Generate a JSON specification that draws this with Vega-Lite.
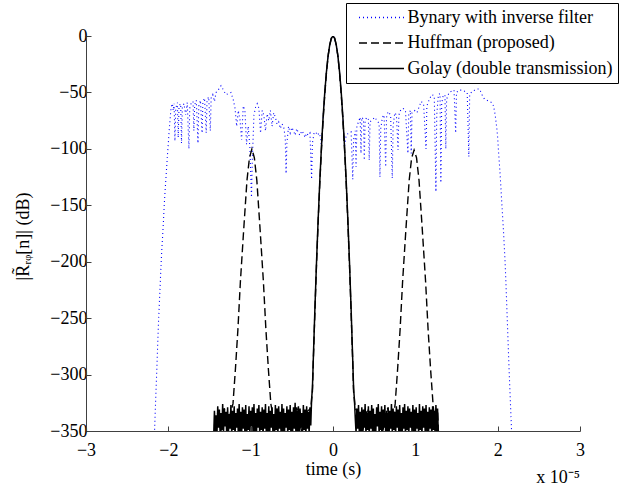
{
 "$schema": "https://vega.github.io/schema/vega-lite/v6.json",
 "width": 494,
 "height": 395,
 "autosize": {"type": "none"},
 "padding": {"left": 86, "top": 36, "right": 61, "bottom": 53},
 "background": "white",
 "config": {"view": {"stroke": null}, "font": "Liberation Serif, Times New Roman, Times, serif"},
 "title": {"text": "x 10⁻⁵", "orient": "bottom", "anchor": "end", "frame": "group", "font": "Liberation Serif, Times New Roman, Times, serif", "fontSize": 18, "fontWeight": "normal", "color": "black", "offset": -9},
 "datasets": {
  "blue": [
   {"x": -2.17, "y": -356}, {"x": -2.16, "y": -335}, {"x": -2.15, "y": -315}, {"x": -2.14, "y": -296}, {"x": -2.13, "y": -275}, {"x": -2.12, "y": -255}, {"x": -2.11, "y": -238}, {"x": -2.10, "y": -222}, {"x": -2.09, "y": -205}, {"x": -2.08, "y": -190}, {"x": -2.07, "y": -178}, {"x": -2.06, "y": -165}, {"x": -2.05, "y": -150}, {"x": -2.04, "y": -138}, {"x": -2.03, "y": -127}, {"x": -2.02, "y": -116}, {"x": -2.01, "y": -105}, {"x": -2.00, "y": -95}, {"x": -1.99, "y": -84}, {"x": -1.98, "y": -75}, {"x": -1.97, "y": -66}, {"x": -1.96, "y": -61},
   {"x": -1.95, "y": -60}, {"x": -1.94, "y": -66}, {"x": -1.93, "y": -60}, {"x": -1.92, "y": -93}, {"x": -1.91, "y": -64}, {"x": -1.89, "y": -59}, {"x": -1.88, "y": -90}, {"x": -1.87, "y": -62}, {"x": -1.85, "y": -60}, {"x": -1.84, "y": -95}, {"x": -1.83, "y": -63}, {"x": -1.81, "y": -60}, {"x": -1.79, "y": -70}, {"x": -1.77, "y": -59}, {"x": -1.75, "y": -100}, {"x": -1.74, "y": -64}, {"x": -1.72, "y": -59}, {"x": -1.70, "y": -58}, {"x": -1.69, "y": -84}, {"x": -1.68, "y": -61}, {"x": -1.66, "y": -57}, {"x": -1.64, "y": -95}, {"x": -1.63, "y": -62}, {"x": -1.61, "y": -57}, {"x": -1.59, "y": -86}, {"x": -1.58, "y": -58}, {"x": -1.56, "y": -55}, {"x": -1.54, "y": -86}, {"x": -1.53, "y": -57}, {"x": -1.51, "y": -54}, {"x": -1.49, "y": -84}, {"x": -1.48, "y": -55}, {"x": -1.46, "y": -52}, {"x": -1.44, "y": -58}, {"x": -1.42, "y": -50}, {"x": -1.40, "y": -49}, {"x": -1.38, "y": -46}, {"x": -1.36, "y": -44}, {"x": -1.33, "y": -48}, {"x": -1.30, "y": -52}, {"x": -1.27, "y": -51}, {"x": -1.24, "y": -50}, {"x": -1.21, "y": -57}, {"x": -1.19, "y": -64}, {"x": -1.17, "y": -80}, {"x": -1.15, "y": -66}, {"x": -1.13, "y": -74}, {"x": -1.11, "y": -92}, {"x": -1.09, "y": -62}, {"x": -1.07, "y": -66}, {"x": -1.05, "y": -96}, {"x": -1.03, "y": -80}, {"x": -1.01, "y": -98}, {"x": -0.99, "y": -143}, {"x": -0.98, "y": -110}, {"x": -0.96, "y": -70}, {"x": -0.94, "y": -63}, {"x": -0.92, "y": -60}, {"x": -0.90, "y": -64}, {"x": -0.88, "y": -86}, {"x": -0.86, "y": -66}, {"x": -0.84, "y": -70}, {"x": -0.82, "y": -84}, {"x": -0.80, "y": -69}, {"x": -0.78, "y": -75}, {"x": -0.76, "y": -66}, {"x": -0.74, "y": -80}, {"x": -0.72, "y": -68}, {"x": -0.70, "y": -72}, {"x": -0.68, "y": -78}, {"x": -0.66, "y": -76}, {"x": -0.64, "y": -82}, {"x": -0.62, "y": -78}, {"x": -0.60, "y": -80}, {"x": -0.58, "y": -90}, {"x": -0.57, "y": -122}, {"x": -0.56, "y": -95}, {"x": -0.54, "y": -80}, {"x": -0.52, "y": -86}, {"x": -0.50, "y": -81}, {"x": -0.48, "y": -84}, {"x": -0.46, "y": -88}, {"x": -0.44, "y": -82}, {"x": -0.42, "y": -86}, {"x": -0.40, "y": -88}, {"x": -0.38, "y": -84}, {"x": -0.36, "y": -86}, {"x": -0.34, "y": -90}, {"x": -0.32, "y": -86}, {"x": -0.30, "y": -88}, {"x": -0.28, "y": -86}, {"x": -0.26, "y": -127}, {"x": -0.25, "y": -95}, {"x": -0.23, "y": -86}, {"x": -0.21, "y": -85}, {"x": -0.19, "y": -88}, {"x": -0.17, "y": -86}, {"x": -0.15, "y": -90}, {"x": -0.14, "y": -98}, {"x": -0.12, "y": -72}, {"x": -0.10, "y": -50}, {"x": -0.08, "y": -32}, {"x": -0.06, "y": -18}, {"x": -0.04, "y": -8}, {"x": -0.02, "y": -2}, {"x": 0, "y": 0}, {"x": 0.02, "y": -2}, {"x": 0.04, "y": -8}, {"x": 0.06, "y": -18}, {"x": 0.08, "y": -32}, {"x": 0.10, "y": -50}, {"x": 0.12, "y": -72}, {"x": 0.14, "y": -98},
   {"x": 0.16, "y": -88}, {"x": 0.19, "y": -86}, {"x": 0.22, "y": -85}, {"x": 0.24, "y": -127}, {"x": 0.25, "y": -92}, {"x": 0.27, "y": -84}, {"x": 0.28, "y": -116}, {"x": 0.29, "y": -80}, {"x": 0.31, "y": -76}, {"x": 0.33, "y": -72}, {"x": 0.34, "y": -104}, {"x": 0.35, "y": -72}, {"x": 0.37, "y": -74}, {"x": 0.38, "y": -110}, {"x": 0.39, "y": -75}, {"x": 0.41, "y": -72}, {"x": 0.43, "y": -74}, {"x": 0.44, "y": -110}, {"x": 0.45, "y": -76}, {"x": 0.48, "y": -74}, {"x": 0.51, "y": -72}, {"x": 0.54, "y": -76}, {"x": 0.56, "y": -77}, {"x": 0.57, "y": -125}, {"x": 0.58, "y": -82}, {"x": 0.60, "y": -72}, {"x": 0.62, "y": -70}, {"x": 0.64, "y": -116}, {"x": 0.65, "y": -72}, {"x": 0.67, "y": -67}, {"x": 0.70, "y": -70}, {"x": 0.72, "y": -126}, {"x": 0.73, "y": -80}, {"x": 0.75, "y": -68}, {"x": 0.77, "y": -70}, {"x": 0.79, "y": -101}, {"x": 0.80, "y": -70}, {"x": 0.82, "y": -66}, {"x": 0.85, "y": -64}, {"x": 0.88, "y": -66}, {"x": 0.91, "y": -104}, {"x": 0.92, "y": -70}, {"x": 0.94, "y": -66}, {"x": 0.95, "y": -104}, {"x": 0.96, "y": -68}, {"x": 0.99, "y": -66}, {"x": 1.02, "y": -68}, {"x": 1.05, "y": -62}, {"x": 1.07, "y": -58}, {"x": 1.10, "y": -60}, {"x": 1.13, "y": -100}, {"x": 1.14, "y": -62}, {"x": 1.17, "y": -56}, {"x": 1.20, "y": -52}, {"x": 1.23, "y": -53}, {"x": 1.25, "y": -138}, {"x": 1.26, "y": -70}, {"x": 1.28, "y": -52}, {"x": 1.30, "y": -51}, {"x": 1.31, "y": -130}, {"x": 1.32, "y": -60}, {"x": 1.34, "y": -52}, {"x": 1.36, "y": -53}, {"x": 1.37, "y": -100}, {"x": 1.38, "y": -56}, {"x": 1.41, "y": -50}, {"x": 1.44, "y": -49}, {"x": 1.47, "y": -48}, {"x": 1.49, "y": -86}, {"x": 1.50, "y": -50}, {"x": 1.53, "y": -48}, {"x": 1.57, "y": -48}, {"x": 1.60, "y": -49}, {"x": 1.63, "y": -50}, {"x": 1.65, "y": -107}, {"x": 1.66, "y": -52}, {"x": 1.69, "y": -49}, {"x": 1.72, "y": -48}, {"x": 1.75, "y": -47}, {"x": 1.78, "y": -47}, {"x": 1.81, "y": -52}, {"x": 1.84, "y": -56}, {"x": 1.87, "y": -57}, {"x": 1.90, "y": -58}, {"x": 1.93, "y": -59}, {"x": 1.95, "y": -62}, {"x": 1.97, "y": -70}, {"x": 1.99, "y": -82}, {"x": 2.00, "y": -90}, {"x": 2.01, "y": -102}, {"x": 2.02, "y": -112}, {"x": 2.03, "y": -123}, {"x": 2.04, "y": -135}, {"x": 2.05, "y": -148}, {"x": 2.06, "y": -160}, {"x": 2.07, "y": -172}, {"x": 2.08, "y": -186}, {"x": 2.09, "y": -200}, {"x": 2.10, "y": -218}, {"x": 2.11, "y": -238}, {"x": 2.12, "y": -258}, {"x": 2.13, "y": -278}, {"x": 2.14, "y": -298}, {"x": 2.15, "y": -316}, {"x": 2.16, "y": -334}, {"x": 2.17, "y": -352}
  ],
  "huff": [
   {"x": -1.44, "y": -345}, {"x": -1.40, "y": -334}, {"x": -1.36, "y": -350}, {"x": -1.32, "y": -330}, {"x": -1.28, "y": -348}, {"x": -1.24, "y": -332},
   {"x": -1.215, "y": -326}, {"x": -1.185, "y": -295}, {"x": -1.155, "y": -260}, {"x": -1.125, "y": -218}, {"x": -1.085, "y": -172}, {"x": -1.045, "y": -128}, {"x": -1.015, "y": -108}, {"x": -0.985, "y": -100}, {"x": -0.955, "y": -108}, {"x": -0.925, "y": -128}, {"x": -0.885, "y": -172}, {"x": -0.845, "y": -218}, {"x": -0.815, "y": -260}, {"x": -0.785, "y": -295}, {"x": -0.755, "y": -326},
   {"x": -0.72, "y": -340}, {"x": -0.68, "y": -330}, {"x": -0.62, "y": -350}, {"x": -0.56, "y": -332}, {"x": -0.50, "y": -348}, {"x": -0.44, "y": -329}, {"x": -0.38, "y": -351}, {"x": -0.32, "y": -333}, {"x": -0.27, "y": -330},
   {"x": -0.25, "y": -315}, {"x": -0.24, "y": -290}, {"x": -0.22, "y": -245}, {"x": -0.20, "y": -202}, {"x": -0.18, "y": -164}, {"x": -0.16, "y": -130}, {"x": -0.14, "y": -100}, {"x": -0.12, "y": -74}, {"x": -0.10, "y": -52}, {"x": -0.08, "y": -33}, {"x": -0.06, "y": -18}, {"x": -0.04, "y": -8}, {"x": -0.02, "y": -2}, {"x": 0, "y": 0}, {"x": 0.02, "y": -2}, {"x": 0.04, "y": -8}, {"x": 0.06, "y": -18}, {"x": 0.08, "y": -33}, {"x": 0.10, "y": -52}, {"x": 0.12, "y": -74}, {"x": 0.14, "y": -100}, {"x": 0.16, "y": -130}, {"x": 0.18, "y": -164}, {"x": 0.20, "y": -202}, {"x": 0.22, "y": -245}, {"x": 0.24, "y": -290}, {"x": 0.25, "y": -315},
   {"x": 0.27, "y": -330}, {"x": 0.30, "y": -333}, {"x": 0.36, "y": -350}, {"x": 0.42, "y": -330}, {"x": 0.48, "y": -348}, {"x": 0.54, "y": -334}, {"x": 0.60, "y": -352}, {"x": 0.66, "y": -329}, {"x": 0.72, "y": -345},
   {"x": 0.755, "y": -326}, {"x": 0.785, "y": -295}, {"x": 0.815, "y": -260}, {"x": 0.845, "y": -218}, {"x": 0.885, "y": -172}, {"x": 0.925, "y": -128}, {"x": 0.955, "y": -108}, {"x": 0.985, "y": -101}, {"x": 1.015, "y": -108}, {"x": 1.045, "y": -128}, {"x": 1.085, "y": -172}, {"x": 1.125, "y": -218}, {"x": 1.155, "y": -260}, {"x": 1.185, "y": -295}, {"x": 1.215, "y": -326},
   {"x": 1.24, "y": -345}, {"x": 1.27, "y": -332}, {"x": 1.28, "y": -350}
  ],
  "golay": [
   {"x": -1.45, "y": -356}, {"x": -1.44, "y": -332}, {"x": -1.43, "y": -350}, {"x": -1.42, "y": -336}, {"x": -1.41, "y": -354}, {"x": -1.40, "y": -328}, {"x": -1.39, "y": -347}, {"x": -1.38, "y": -331}, {"x": -1.37, "y": -355}, {"x": -1.36, "y": -334}, {"x": -1.35, "y": -349}, {"x": -1.34, "y": -326}, {"x": -1.33, "y": -352}, {"x": -1.32, "y": -330}, {"x": -1.31, "y": -346}, {"x": -1.30, "y": -333}, {"x": -1.29, "y": -357}, {"x": -1.28, "y": -329}, {"x": -1.27, "y": -351}, {"x": -1.26, "y": -335}, {"x": -1.25, "y": -348}, {"x": -1.24, "y": -327}, {"x": -1.23, "y": -354}, {"x": -1.22, "y": -332}, {"x": -1.21, "y": -349}, {"x": -1.20, "y": -328}, {"x": -1.19, "y": -356}, {"x": -1.18, "y": -334}, {"x": -1.17, "y": -347}, {"x": -1.16, "y": -330}, {"x": -1.15, "y": -353}, {"x": -1.14, "y": -326}, {"x": -1.13, "y": -350}, {"x": -1.12, "y": -333}, {"x": -1.11, "y": -355}, {"x": -1.10, "y": -329}, {"x": -1.09, "y": -348}, {"x": -1.08, "y": -331}, {"x": -1.07, "y": -352}, {"x": -1.06, "y": -327}, {"x": -1.05, "y": -357}, {"x": -1.04, "y": -335}, {"x": -1.03, "y": -349}, {"x": -1.02, "y": -328}, {"x": -1.01, "y": -353}, {"x": -1.00, "y": -332}, {"x": -0.99, "y": -346}, {"x": -0.98, "y": -329}, {"x": -0.97, "y": -355}, {"x": -0.96, "y": -326}, {"x": -0.95, "y": -350}, {"x": -0.94, "y": -334}, {"x": -0.93, "y": -354}, {"x": -0.92, "y": -330}, {"x": -0.91, "y": -347}, {"x": -0.90, "y": -327}, {"x": -0.89, "y": -352}, {"x": -0.88, "y": -333}, {"x": -0.87, "y": -349}, {"x": -0.86, "y": -329}, {"x": -0.85, "y": -356}, {"x": -0.84, "y": -331}, {"x": -0.83, "y": -348}, {"x": -0.82, "y": -326}, {"x": -0.81, "y": -353}, {"x": -0.80, "y": -334}, {"x": -0.79, "y": -350}, {"x": -0.78, "y": -328}, {"x": -0.77, "y": -355}, {"x": -0.76, "y": -332}, {"x": -0.75, "y": -347}, {"x": -0.74, "y": -329}, {"x": -0.73, "y": -351}, {"x": -0.72, "y": -335}, {"x": -0.71, "y": -354}, {"x": -0.70, "y": -327}, {"x": -0.69, "y": -349}, {"x": -0.68, "y": -331}, {"x": -0.67, "y": -356}, {"x": -0.66, "y": -328}, {"x": -0.65, "y": -348}, {"x": -0.64, "y": -333}, {"x": -0.63, "y": -352}, {"x": -0.62, "y": -326}, {"x": -0.61, "y": -350}, {"x": -0.60, "y": -330}, {"x": -0.59, "y": -355}, {"x": -0.58, "y": -334}, {"x": -0.57, "y": -347}, {"x": -0.56, "y": -328}, {"x": -0.55, "y": -353}, {"x": -0.54, "y": -331}, {"x": -0.53, "y": -349}, {"x": -0.52, "y": -327}, {"x": -0.51, "y": -356}, {"x": -0.50, "y": -333}, {"x": -0.49, "y": -351}, {"x": -0.48, "y": -329}, {"x": -0.47, "y": -348}, {"x": -0.46, "y": -325}, {"x": -0.45, "y": -354}, {"x": -0.44, "y": -332}, {"x": -0.43, "y": -350}, {"x": -0.42, "y": -328}, {"x": -0.41, "y": -355}, {"x": -0.40, "y": -330}, {"x": -0.39, "y": -347}, {"x": -0.38, "y": -334}, {"x": -0.37, "y": -352}, {"x": -0.36, "y": -327}, {"x": -0.35, "y": -349}, {"x": -0.34, "y": -331}, {"x": -0.33, "y": -356}, {"x": -0.32, "y": -328}, {"x": -0.31, "y": -348}, {"x": -0.30, "y": -333}, {"x": -0.29, "y": -353}, {"x": -0.28, "y": -329}, {"x": -0.27, "y": -345}, {"x": -0.26, "y": -322},
   {"x": -0.25, "y": -312}, {"x": -0.24, "y": -288}, {"x": -0.22, "y": -242}, {"x": -0.20, "y": -200}, {"x": -0.18, "y": -162}, {"x": -0.16, "y": -128}, {"x": -0.14, "y": -98}, {"x": -0.12, "y": -72}, {"x": -0.10, "y": -50}, {"x": -0.08, "y": -32}, {"x": -0.06, "y": -18}, {"x": -0.04, "y": -8}, {"x": -0.02, "y": -2}, {"x": 0, "y": 0}, {"x": 0.02, "y": -2}, {"x": 0.04, "y": -8}, {"x": 0.06, "y": -18}, {"x": 0.08, "y": -32}, {"x": 0.10, "y": -50}, {"x": 0.12, "y": -72}, {"x": 0.14, "y": -98}, {"x": 0.16, "y": -128}, {"x": 0.18, "y": -162}, {"x": 0.20, "y": -200}, {"x": 0.22, "y": -242}, {"x": 0.24, "y": -288}, {"x": 0.25, "y": -312},
   {"x": 0.26, "y": -322}, {"x": 0.27, "y": -338}, {"x": 0.28, "y": -352}, {"x": 0.29, "y": -330}, {"x": 0.30, "y": -348}, {"x": 0.31, "y": -327}, {"x": 0.32, "y": -354}, {"x": 0.33, "y": -333}, {"x": 0.34, "y": -350}, {"x": 0.35, "y": -329}, {"x": 0.36, "y": -356}, {"x": 0.37, "y": -331}, {"x": 0.38, "y": -347}, {"x": 0.39, "y": -326}, {"x": 0.40, "y": -353}, {"x": 0.41, "y": -334}, {"x": 0.42, "y": -349}, {"x": 0.43, "y": -328}, {"x": 0.44, "y": -355}, {"x": 0.45, "y": -332}, {"x": 0.46, "y": -348}, {"x": 0.47, "y": -327}, {"x": 0.48, "y": -352}, {"x": 0.49, "y": -330}, {"x": 0.50, "y": -357}, {"x": 0.51, "y": -335}, {"x": 0.52, "y": -350}, {"x": 0.53, "y": -329}, {"x": 0.54, "y": -346}, {"x": 0.55, "y": -326}, {"x": 0.56, "y": -354}, {"x": 0.57, "y": -333}, {"x": 0.58, "y": -349}, {"x": 0.59, "y": -328}, {"x": 0.60, "y": -355}, {"x": 0.61, "y": -331}, {"x": 0.62, "y": -347}, {"x": 0.63, "y": -327}, {"x": 0.64, "y": -353}, {"x": 0.65, "y": -334}, {"x": 0.66, "y": -350}, {"x": 0.67, "y": -329}, {"x": 0.68, "y": -356}, {"x": 0.69, "y": -332}, {"x": 0.70, "y": -348}, {"x": 0.71, "y": -326}, {"x": 0.72, "y": -352}, {"x": 0.73, "y": -330}, {"x": 0.74, "y": -349}, {"x": 0.75, "y": -333}, {"x": 0.76, "y": -355}, {"x": 0.77, "y": -328}, {"x": 0.78, "y": -347}, {"x": 0.79, "y": -331}, {"x": 0.80, "y": -353}, {"x": 0.81, "y": -327}, {"x": 0.82, "y": -350}, {"x": 0.83, "y": -334}, {"x": 0.84, "y": -356}, {"x": 0.85, "y": -329}, {"x": 0.86, "y": -348}, {"x": 0.87, "y": -326}, {"x": 0.88, "y": -354}, {"x": 0.89, "y": -332}, {"x": 0.90, "y": -349}, {"x": 0.91, "y": -328}, {"x": 0.92, "y": -355}, {"x": 0.93, "y": -330}, {"x": 0.94, "y": -347}, {"x": 0.95, "y": -333}, {"x": 0.96, "y": -352}, {"x": 0.97, "y": -327}, {"x": 0.98, "y": -350}, {"x": 0.99, "y": -331}, {"x": 1.00, "y": -356}, {"x": 1.01, "y": -329}, {"x": 1.02, "y": -348}, {"x": 1.03, "y": -334}, {"x": 1.04, "y": -353}, {"x": 1.05, "y": -326}, {"x": 1.06, "y": -349}, {"x": 1.07, "y": -332}, {"x": 1.08, "y": -355}, {"x": 1.09, "y": -328}, {"x": 1.10, "y": -347}, {"x": 1.11, "y": -330}, {"x": 1.12, "y": -352}, {"x": 1.13, "y": -327}, {"x": 1.14, "y": -350}, {"x": 1.15, "y": -333}, {"x": 1.16, "y": -354}, {"x": 1.17, "y": -329}, {"x": 1.18, "y": -348}, {"x": 1.19, "y": -331}, {"x": 1.20, "y": -356}, {"x": 1.21, "y": -328}, {"x": 1.22, "y": -349}, {"x": 1.23, "y": -332}, {"x": 1.24, "y": -353}, {"x": 1.25, "y": -327}, {"x": 1.26, "y": -350}, {"x": 1.27, "y": -330}, {"x": 1.28, "y": -355}
  ]
 },
 "encoding": {
  "x": {"field": "x", "type": "quantitative", "scale": {"domain": [-3, 3], "nice": false, "zero": false},
   "axis": {"title": "time (s)", "values": [-3, -2, -1, 0, 1, 2, 3], "format": "d", "grid": false, "tickSize": -5, "domainColor": "#404040", "tickColor": "#404040", "domainWidth": 1, "labelFont": "Liberation Serif, Times New Roman, Times, serif", "labelFontSize": 18, "labelColor": "black", "labelPadding": 15, "labelFlush": false, "titleFont": "Liberation Serif, Times New Roman, Times, serif", "titleFontSize": 18, "titleFontWeight": "normal", "titleColor": "black", "titleBaseline": "middle", "titleY": 38}},
  "y": {"field": "y", "type": "quantitative", "scale": {"domain": [-350, 0], "nice": false, "zero": false},
   "axis": {"title": "|R̃ᵣᵩ[n]| (dB)", "values": [-350, -300, -250, -200, -150, -100, -50, 0], "format": "d", "grid": false, "tickSize": -5, "domainColor": "#404040", "tickColor": "#404040", "labelFont": "Liberation Serif, Times New Roman, Times, serif", "labelFontSize": 18, "labelColor": "black", "labelPadding": 4, "titleFont": "Liberation Serif, Times New Roman, Times, serif", "titleFontSize": 18, "titleFontWeight": "normal", "titleColor": "black", "titleAngle": -90, "titleAlign": "center", "titleBaseline": "middle", "titleX": -63, "titleY": 200}},
  "color": {"field": "s", "type": "nominal",
   "scale": {"domain": ["Bynary with inverse filter", "Huffman (proposed)", "Golay (double transmission)"], "range": ["#0000ff", "#000000", "#000000"]},
   "legend": {"orient": "none", "legendX": 260, "legendY": -33, "title": null, "symbolType": "M-3,0H3", "symbolSize": 225, "symbolOffset": 21, "symbolStrokeWidth": 1.3, "labelFont": "Liberation Serif, Times New Roman, Times, serif", "labelFontSize": 18, "labelColor": "black", "labelLimit": 0, "strokeColor": "black", "fillColor": "white", "padding": 5.5, "rowPadding": 7.5, "labelOffset": 17, "labelExpr": "datum.label + '\u00a0\u00a0\u00a0\u00a0\u00a0\u00a0\u00a0\u00a0\u00a0'"}},
  "strokeDash": {"field": "s", "type": "nominal",
   "scale": {"domain": ["Bynary with inverse filter", "Huffman (proposed)", "Golay (double transmission)"], "range": [[1, 3], [8, 4], [1, 0]]},
   "legend": {"orient": "none", "legendX": 260, "legendY": -33, "title": null, "symbolType": "M-3,0H3", "symbolSize": 225, "symbolOffset": 21, "symbolStrokeWidth": 1.3, "labelFont": "Liberation Serif, Times New Roman, Times, serif", "labelFontSize": 18, "labelColor": "black", "labelLimit": 0, "strokeColor": "black", "fillColor": "white", "padding": 5.5, "rowPadding": 7.5, "labelOffset": 17, "labelExpr": "datum.label + '\u00a0\u00a0\u00a0\u00a0\u00a0\u00a0\u00a0\u00a0\u00a0'"}}
 },
 "layer": [
  {"data": {"name": "blue"}, "transform": [{"calculate": "'Bynary with inverse filter'", "as": "s"}], "mark": {"type": "line", "clip": true, "strokeWidth": 1.1}},
  {"data": {"name": "huff"}, "transform": [{"calculate": "'Huffman (proposed)'", "as": "s"}], "mark": {"type": "line", "clip": true, "strokeWidth": 1.4}},
  {"data": {"name": "golay"}, "transform": [{"calculate": "'Golay (double transmission)'", "as": "s"}], "mark": {"type": "line", "clip": true, "strokeWidth": 1.5}}
 ]
}
